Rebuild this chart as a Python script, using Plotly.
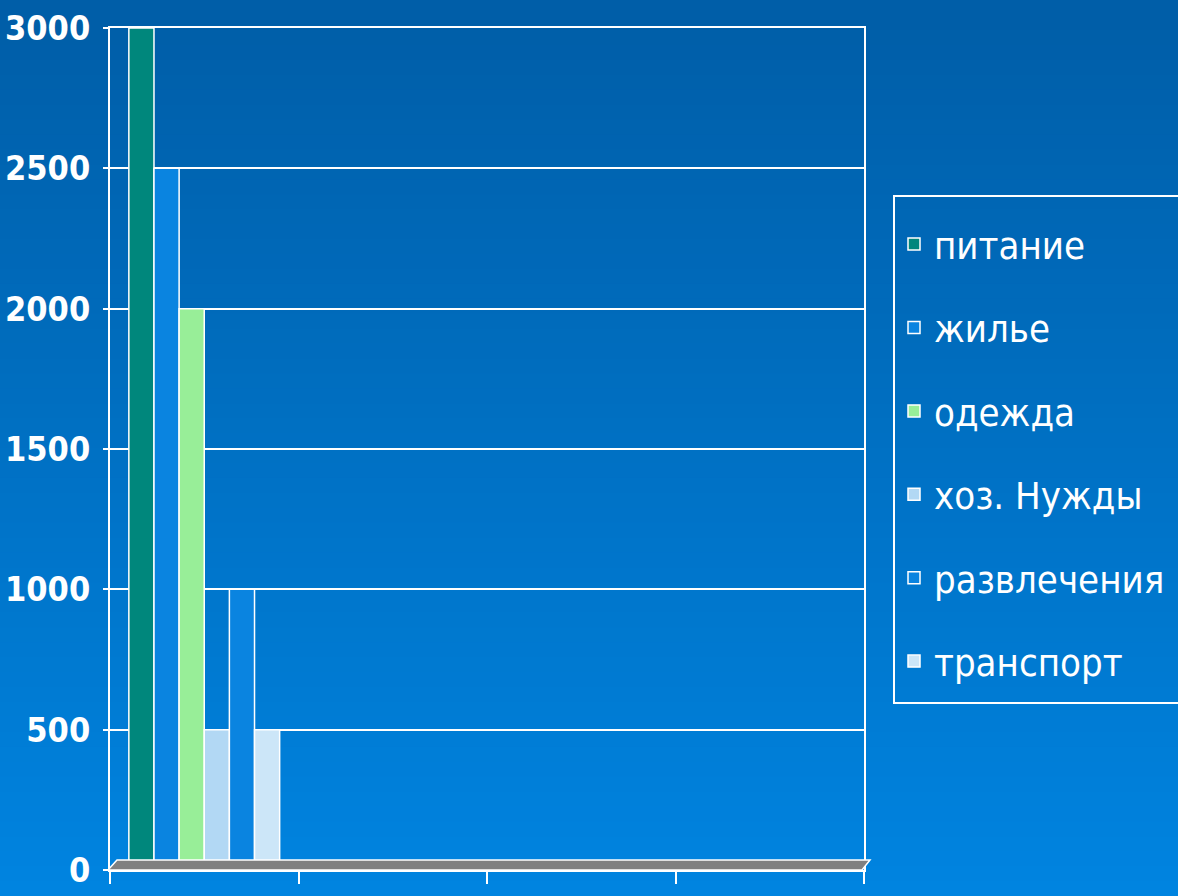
import plotly.graph_objects as go

# data
categories = ["1", "2", "3", "4"]
series_names = ["питание", "жилье", "одежда", "хоз. Нужды", "развлечения", "транспорт"]
series_values = [
    [3000, None, None, None],
    [2500, None, None, None],
    [2000, None, None, None],
    [500, None, None, None],
    [1000, None, None, None],
    [500, None, None, None],
]
series_colors = ["#00877C", "#0A84E0", "#98EE98", "#B2D8F4", "#0A84E0", "#CCE6F8"]
y_ticks = [0, 500, 1000, 1500, 2000, 2500, 3000]

W, H = 1178, 896

fig = go.Figure()

for name, vals, col in zip(series_names, series_values, series_colors):
    fig.add_trace(go.Bar(
        x=categories, y=vals, name=name, legendgroup=name,
        marker=dict(color=col, line=dict(color="white", width=1.5)),
    ))

# invisible trace so the back wall axes render
fig.add_trace(go.Scatter(x=[0, 1], y=[0, 0], xaxis="x2", yaxis="y2",
                         mode="lines", line=dict(width=0), showlegend=False,
                         hoverinfo="skip"))

# background gradient
shapes = []
n = 60
top = (0, 94, 168)
bot = (0, 132, 224)
for i in range(n):
    t = i / (n - 1)
    c = tuple(int(top[k] + (bot[k] - top[k]) * t) for k in range(3))
    y1 = 1 - i / n
    y0 = y1 - 1 / n - 0.002
    shapes.append(dict(type="rect", xref="paper", yref="paper", layer="below",
                       x0=0, x1=1, y0=max(y0, 0), y1=y1,
                       fillcolor="rgb(%d,%d,%d)" % c, line=dict(width=0)))

# floor (3d base strip)
shapes.append(dict(type="path", xref="paper", yref="paper", layer="above",
                   path=f"M {108/W},{26/H} L {862/W},{26/H} L {870/W},{36/H} L {117/W},{36/H} Z",
                   fillcolor="#808080", line=dict(color="white", width=1.5)))

# legend frame
shapes.append(dict(type="rect", xref="paper", yref="paper", layer="above",
                   x0=894 / W, x1=1.05, y0=(H - 703) / H, y1=(H - 196) / H,
                   line=dict(color="white", width=2), fillcolor="rgba(0,0,0,0)"))

font_family = "DejaVu Sans Condensed, Liberation Sans Narrow, sans-serif"

fig.update_layout(
    width=W, height=H,
    margin=dict(l=0, r=0, t=0, b=0, autoexpand=False),
    paper_bgcolor="#0070C0",
    plot_bgcolor="rgba(0,0,0,0)",
    barmode="group", bargap=0.2, bargroupgap=0,
    shapes=shapes,
    showlegend=True,
    legend=dict(
        x=894 / W, xanchor="left",
        y=(H - 196) / H, yanchor="top",
        borderwidth=0,
        bgcolor="rgba(0,0,0,0)",
        font=dict(family=font_family, size=38, color="white"),
        title=dict(text=" ", font=dict(size=13)),
        tracegroupgap=31,
        itemwidth=30,
    ),
    xaxis=dict(
        type="category", categoryorder="array", categoryarray=categories,
        domain=[110 / W, 864 / W], automargin=False,
        showticklabels=False, showgrid=False, zeroline=False,
        tickson="boundaries", ticks="outside", ticklen=12, tickwidth=2,
        tickcolor="white", showline=True, linecolor="white", linewidth=2,
    ),
    yaxis=dict(
        range=[0, 3000], domain=[26 / H, 868 / H], automargin=False,
        tickvals=y_ticks, ticks="outside", ticklen=5, tickwidth=2,
        tickcolor="white", showline=True, linecolor="white", linewidth=2,
        showgrid=False, zeroline=False, ticklabelstandoff=6,
        tickfont=dict(family=font_family, size=34, color="white", weight="bold"),
    ),
    xaxis2=dict(
        overlaying="x", anchor="y2", domain=[117 / W, 870 / W], range=[0, 1],
        showgrid=False, zeroline=False, showticklabels=False, automargin=False,
        showline=True, mirror=True, linecolor="white", linewidth=2,
    ),
    yaxis2=dict(
        overlaying="y", anchor="x2", domain=[36 / H, 878 / H], range=[0, 3000],
        tickvals=y_ticks, showgrid=True, gridcolor="white", gridwidth=2,
        zeroline=False, showticklabels=False, automargin=False,
        showline=True, mirror=True, linecolor="white", linewidth=2,
    ),
)

fig.write_html("out.html", config={"displayModeBar": False},
               post_script="document.body.style.margin='0';")
